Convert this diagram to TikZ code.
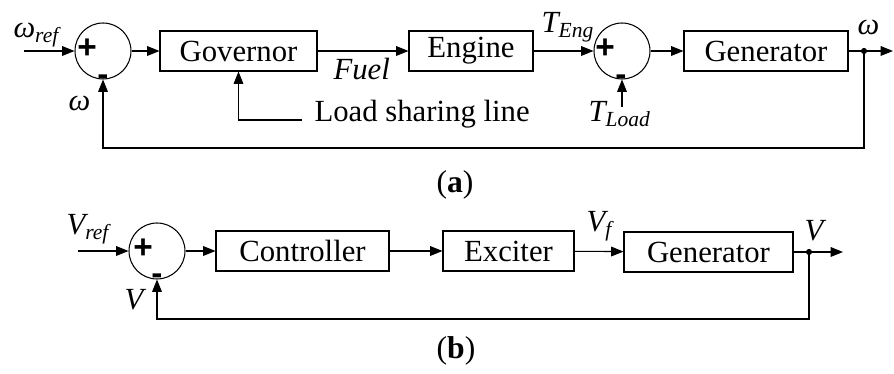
\documentclass[tikz,border=0pt]{standalone}
\usepackage{fontspec}
\setmainfont{Liberation Serif}
\newfontfamily\signfont{Liberation Sans}
\usetikzlibrary{arrows.meta}
\tikzset{
  block/.style={draw, minimum height=0.8cm, inner sep=0pt, font=\fontsize{17.5}{20}\selectfont},
  sumnode/.style={draw, circle, minimum size=1.12cm, inner sep=0pt},
  sign/.style={font=\signfont\bfseries\fontsize{19}{20}\selectfont, inner sep=0pt},
  lbl/.style={font=\itshape\fontsize{17.5}{20}\selectfont, inner sep=0pt, anchor=base west},
  junction/.style={circle, fill, inner sep=0pt, minimum size=3.5pt},
}
\begin{document}
\begin{tikzpicture}[x=0.02cm, y=-0.02cm, line width=0.6pt, >={Triangle[length=7pt,width=5.5pt]}]
	\useasboundingbox (0,0) rectangle (894,374);
	% (a) speed loop
		\node[sumnode] (S1) at (103,51) {};
		\node[block, minimum width=3.14cm] (Gov) at (238.5,51) {Governor};
		\node[block, minimum width=2.48cm] (Eng) at (471,51) {Engine};
		\node[sumnode] (S2) at (622,51) {};
		\node[block, minimum width=3.28cm] (Gen) at (766,51) {Generator};
		\node[junction] (J1) at (864,51) {};
		\coordinate (in1) at (24,51);
		\coordinate (out1) at (893,51);
		\coordinate (fb1) at (864,148);
		\coordinate (ls) at (302,120);
		\coordinate (tl) at (622,107);
		\node[sign] (p1) at (87,49) {+};
		\node[sign] (m1) at (103,80) {-};
		\node[sign] (p2) at (605,49) {+};
		\node[sign] (m2) at (621,80) {-};
		\node[lbl] (wref) at (13,38) {ω\textsubscript{ref}};
		\node[lbl] (wfb) at (68,111) {ω};
		\node[lbl] (fuel) at (333,80) {Fuel};
		\node[lbl, font=\fontsize{17.5}{20}\selectfont] (lsl) at (314,122) {Load sharing line};
		\node[lbl] (teng) at (541,33) {T\textsubscript{Eng}};
		\node[lbl] (tload) at (588,122) {T\textsubscript{Load}};
		\node[lbl] (wout) at (857,35) {ω};
		\path[->] (in1) edge (S1);
		\path[->] (S1) edge (Gov);
		\path[->] (Gov) edge (Eng);
		\path[->] (Eng) edge (S2);
		\path[->] (S2) edge (Gen);
		\path[->] (Gen) edge (out1);
		\path[->] (tl) edge (S2);
		\draw[->] (ls) -| (Gov);
		\draw[->] (J1.center) -- (fb1) -| (S1);
		\node[font=\fontsize{18}{20}\selectfont] (capa) at (455,185) {(\textbf{a})};
	% (b) voltage loop
		\node[sumnode] (S3) at (157,251) {};
		\node[block, minimum width=3.46cm] (Ctrl) at (302.5,251) {Controller};
		\node[block, minimum width=2.62cm] (Exc) at (508.5,251) {Exciter};
		\node[block, minimum width=3.38cm] (GenB) at (708.5,252) {Generator};
		\node[junction] (J2) at (809,252) {};
		\coordinate (in3) at (78,251);
		\coordinate (out2) at (843,252);
		\coordinate (fb2) at (809,319);
		\node[sign] (p3) at (143,249) {+};
		\node[sign] (m3) at (157,279) {-};
		\node[lbl] (vref) at (66,235) {V\textsubscript{ref}};
		\node[lbl] (vfb) at (124,310) {V};
		\node[lbl] (vf) at (586,232) {V\textsubscript{f}};
		\node[lbl] (vout) at (804,241) {V};
		\path[->] (in3) edge (S3);
		\path[->] (S3) edge (Ctrl);
		\path[->] (Ctrl) edge (Exc);
		\path[->] (Exc) edge (GenB);
		\path[->] (GenB) edge (out2);
		\draw[->] (J2.center) -- (fb2) -| (S3);
		\node[font=\fontsize{18}{20}\selectfont] (capb) at (456,351) {(\textbf{b})};
	\end{tikzpicture}
\end{document}
